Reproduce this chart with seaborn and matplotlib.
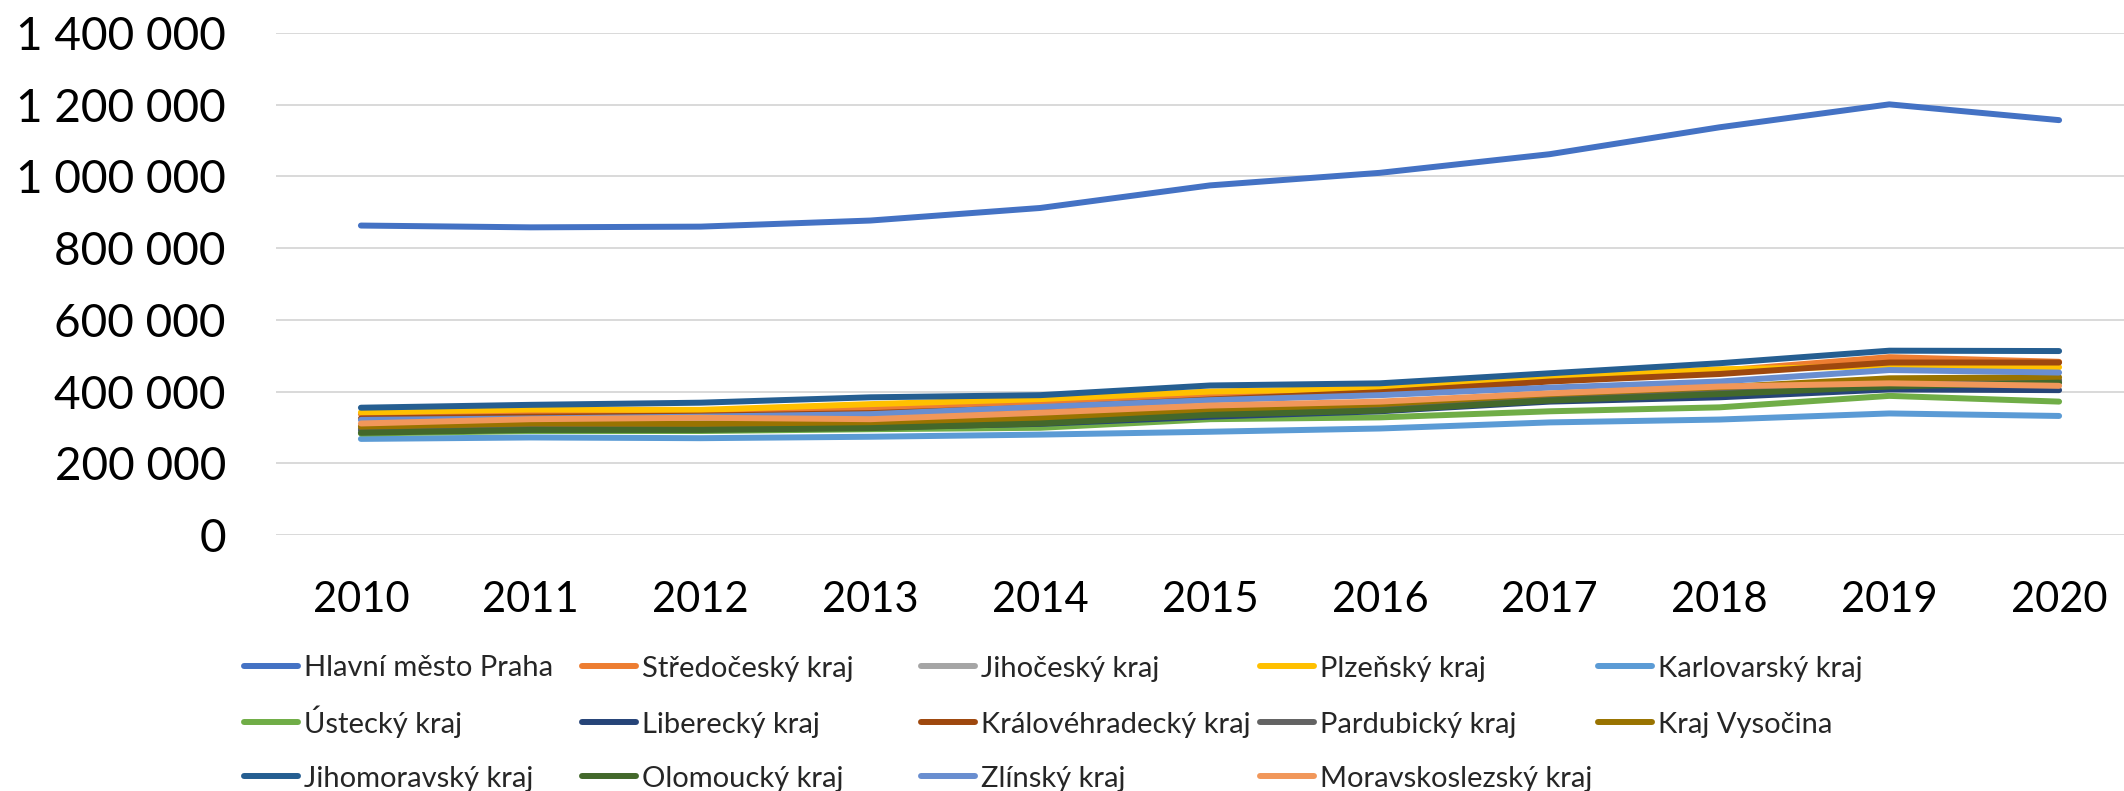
import matplotlib
matplotlib.use("Agg")
import matplotlib.pyplot as plt
import numpy as np
import pandas as pd
import seaborn as sns
from matplotlib.lines import Line2D

years = list(range(2010, 2021))

regions = [
    "Hlavní město Praha", "Středočeský kraj", "Jihočeský kraj", "Plzeňský kraj",
    "Karlovarský kraj", "Ústecký kraj", "Liberecký kraj", "Královéhradecký kraj",
    "Pardubický kraj", "Kraj Vysočina", "Jihomoravský kraj", "Olomoucký kraj",
    "Zlínský kraj", "Moravskoslezský kraj",
]

colors = [
    "#4472C4", "#ED7D31", "#A5A5A5", "#FFC000", "#5B9BD5", "#70AD47", "#264478",
    "#9E480E", "#636363", "#997300", "#255E91", "#43682B", "#698ED0", "#F1975A",
]

praha = [863000, 858000, 860000, 877000, 912000, 975000, 1010000, 1062000, 1137000, 1201000, 1157000]
stredocesky = [337000, 344000, 345000, 351000, 370000, 390000, 402000, 435000, 458000, 496000, 483000]
jihocesky = [305000, 310000, 312000, 318000, 330000, 350000, 362000, 390000, 408000, 430000, 428000]
plzensky = [342000, 350000, 349000, 365000, 379000, 400000, 409000, 440000, 462000, 471000, 468000]
karlovarsky = [268000, 272000, 270000, 274000, 280000, 288000, 297000, 314000, 322000, 339000, 332000]
ustecky = [283000, 290000, 290000, 295000, 299000, 323000, 328000, 345000, 356000, 388000, 372000]
liberecky = [293000, 296000, 297000, 300000, 310000, 330000, 345000, 372000, 384000, 406000, 404000]
kralovehradecky = [325000, 330000, 333000, 340000, 355000, 378000, 398000, 428000, 449000, 481000, 481000]
pardubicky = [296000, 300000, 309000, 309000, 328000, 344000, 360000, 385000, 405000, 425000, 432000]
vysocina = [302000, 311000, 310000, 312000, 325000, 348000, 365000, 393000, 412000, 437000, 440000]
jihomoravsky = [355000, 363000, 369000, 384000, 390000, 417000, 423000, 451000, 479000, 514000, 513000]
olomoucky = [285000, 293000, 293000, 298000, 311000, 335000, 347000, 375000, 393000, 414000, 425000]
zlinsky = [321000, 325000, 330000, 337000, 357000, 376000, 390000, 411000, 428000, 460000, 453000]
moravskoslezsky = [311000, 323000, 327000, 323000, 341000, 361000, 372000, 395000, 414000, 423000, 416000]

series = [praha, stredocesky, jihocesky, plzensky, karlovarsky, ustecky, liberecky,
          kralovehradecky, pardubicky, vysocina, jihomoravsky, olomoucky, zlinsky,
          moravskoslezsky]

yticks = [0, 200000, 400000, 600000, 800000, 1000000, 1200000, 1400000]
ytick_labels = ["0", "200 000", "400 000", "600 000", "800 000", "1 000 000", "1 200 000", "1 400 000"]

rows = []
for name, vals in zip(regions, series):
    for y, v in zip(years, vals):
        rows.append({"rok": y, "hodnota": v, "kraj": name})
df = pd.DataFrame(rows)

sns.set_theme(style="white")
plt.rcParams["font.family"] = ["Lato", "DejaVu Sans"]

W, H = 2124, 791
fig = plt.figure(figsize=(W / 100, H / 100), dpi=100)
ax = fig.add_axes([276 / W, 1 - 535 / H, (2144 - 276) / W, (535 - 33) / H])

LW = 4.3
sns.lineplot(data=df, x="rok", y="hodnota", hue="kraj", hue_order=regions,
             palette=dict(zip(regions, colors)), linewidth=LW, ax=ax, legend=False,
             sort=False, solid_capstyle="round", solid_joinstyle="round")

ax.set_xlim(2009.5, 2020.5)
ax.set_ylim(0, 1400000)
ax.set_xticks(years)
ax.set_xticklabels([str(y) for y in years])
ax.set_yticks(yticks)
ax.set_yticklabels(ytick_labels)
ax.set_xlabel("")
ax.set_ylabel("")
for s in ax.spines.values():
    s.set_visible(False)
ax.grid(axis="y", color="#D9D9D9", linewidth=1.4)
ax.grid(axis="x", visible=False)
ax.set_axisbelow(True)
ax.tick_params(axis="y", length=0, pad=36, labelsize=33, labelcolor="black")
ax.tick_params(axis="x", length=0, pad=33, labelsize=30, labelcolor="black")

# legend: 3 rows x 5 columns, row-major order like the reference
col_x = [244, 582, 921, 1260, 1598]
row_y = [666, 722, 776]  # centre of handle line (pixels from top)
for i, name in enumerate(regions):
    r, c = divmod(i, 5)
    handle = Line2D([], [], color=colors[i], linewidth=LW, solid_capstyle="round")
    leg = fig.legend([handle], [name], loc="lower left",
                     bbox_to_anchor=(col_x[c] / W, 1 - (row_y[r] + 15.5) / H),
                     bbox_transform=fig.transFigure,
                     frameon=False, borderpad=0, borderaxespad=0, fontsize=21,
                     handlelength=1.85, handletextpad=0.2)

fig.savefig("out.png", dpi=100)
